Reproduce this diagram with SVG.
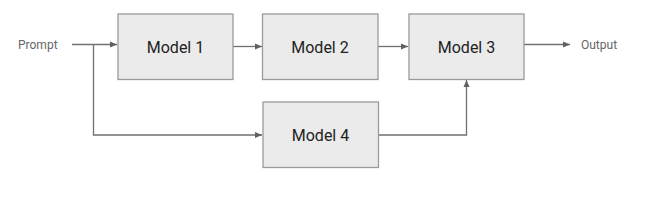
<svg xmlns="http://www.w3.org/2000/svg" width="649" height="201" viewBox="0 0 649 201">
<style>
.box{fill:#ebebeb;stroke:#9a9a9a;stroke-width:1.3}
.lbl{font-family:Roboto,"Liberation Sans",sans-serif;font-size:16px;fill:#222;text-anchor:middle}
.io{font-family:Roboto,"Liberation Sans",sans-serif;font-size:12px;fill:#666}
.ln{fill:none;stroke:#707070;stroke-width:1.3}
</style>
<defs>
<marker id="ah" markerWidth="8" markerHeight="8" refX="7" refY="4" orient="auto" markerUnits="userSpaceOnUse">
<path d="M0,1 L7,4 L0,7 Z" fill="#606060"/>
</marker>
</defs>
<rect width="649" height="201" fill="#fff"/>
<text class="io" x="18" y="49">Prompt</text>
<text class="io" x="581" y="49">Output</text>
<g id="connectors">
<path class="ln" d="M72,44.5 H117" marker-end="url(#ah)"/>
<path class="ln" d="M93.5,44.5 V135 H262" marker-end="url(#ah)"/>
<path class="ln" d="M233,46.5 H262" marker-end="url(#ah)"/>
<path class="ln" d="M378,46.5 H408" marker-end="url(#ah)"/>
<path class="ln" d="M524,44.5 H570" marker-end="url(#ah)"/>
<path class="ln" d="M378,135 H466.5 V80" marker-end="url(#ah)"/>
</g>
<g id="model1"><rect class="box" x="118" y="14" width="115" height="65.5"/><text class="lbl" x="175.5" y="53">Model 1</text></g>
<g id="model2"><rect class="box" x="262.5" y="14" width="115.5" height="65.5"/><text class="lbl" x="320" y="53">Model 2</text></g>
<g id="model3"><rect class="box" x="409" y="14" width="115" height="65.5"/><text class="lbl" x="466.5" y="53">Model 3</text></g>
<g id="model4"><rect class="box" x="263" y="102" width="115.5" height="65.5"/><text class="lbl" x="320.5" y="141">Model 4</text></g>
</svg>
